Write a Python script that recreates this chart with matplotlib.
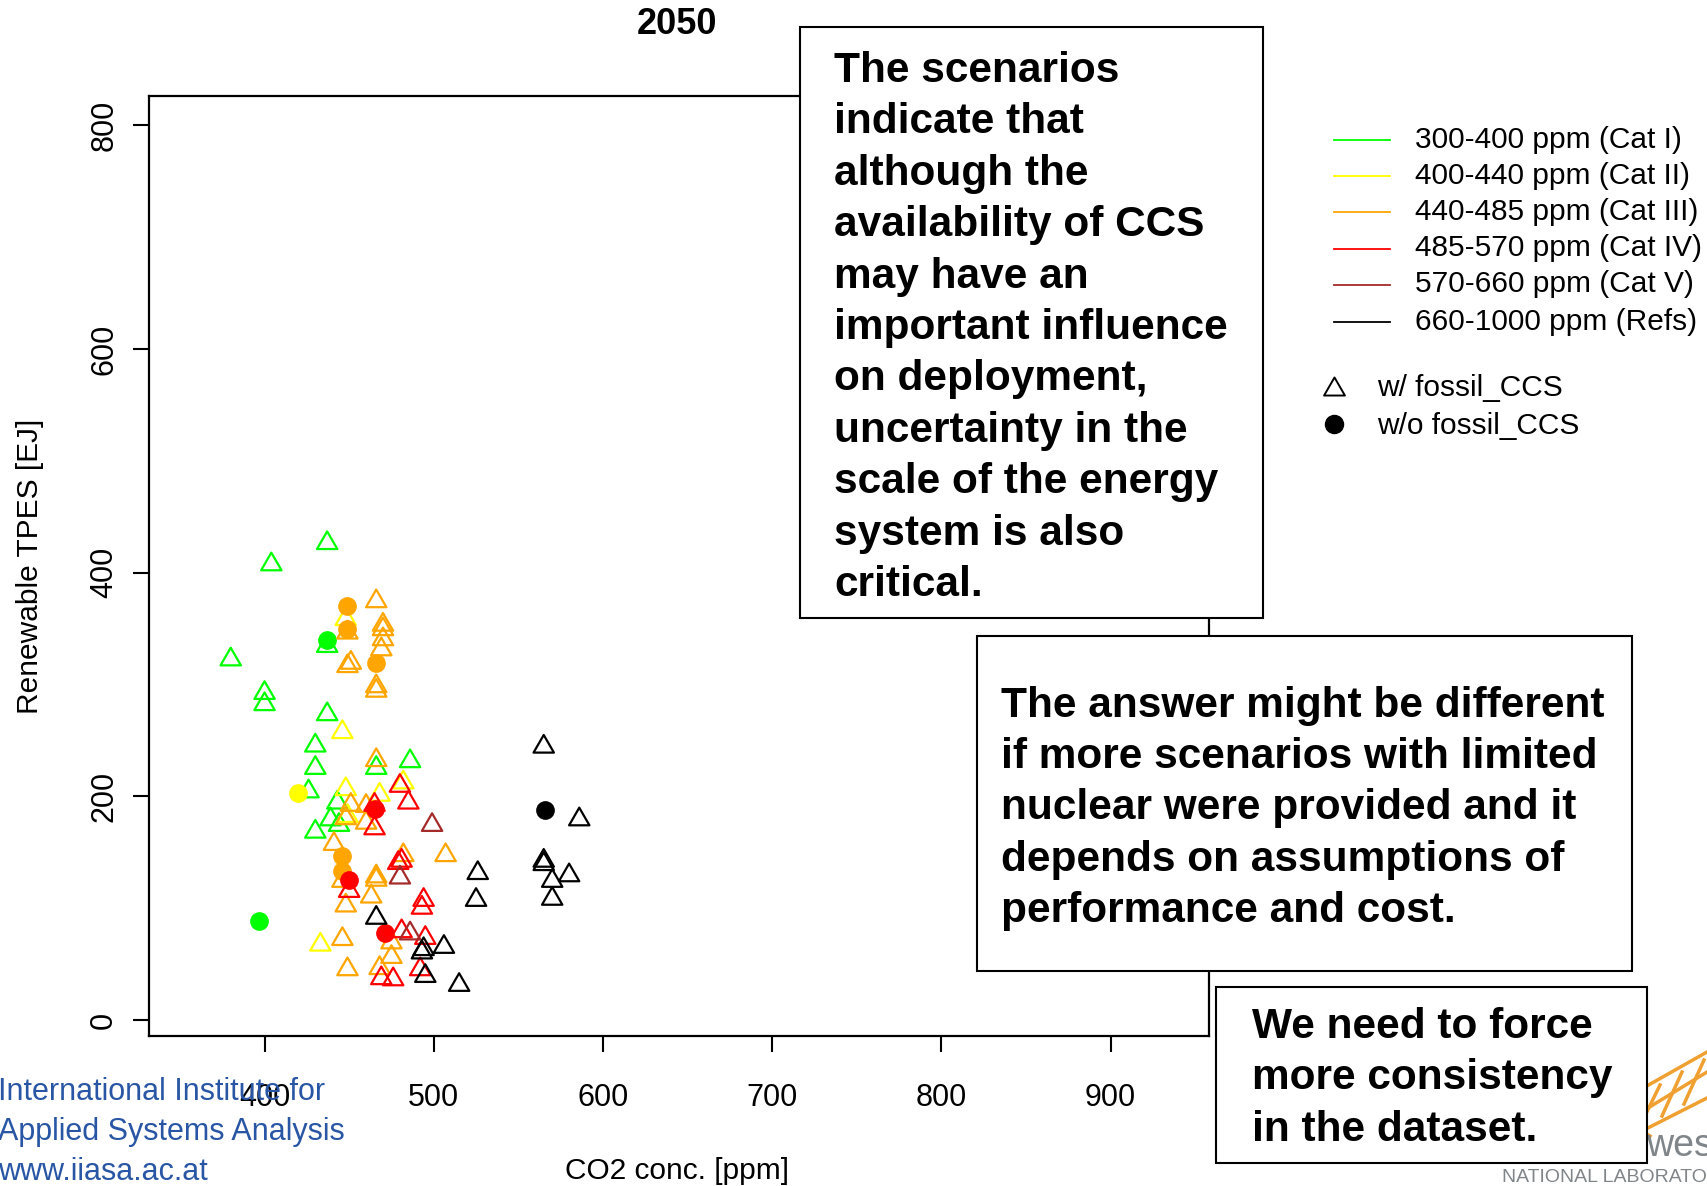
import matplotlib
matplotlib.use("Agg")
import matplotlib.pyplot as plt
from matplotlib.path import Path
from matplotlib.patches import Rectangle
from matplotlib.lines import Line2D

# Data (CO2 conc. [ppm] vs renewable TPES [EJ], 2050)
cat1_ccs_x = [437, 404, 380, 400, 400, 437, 430, 430, 466, 486, 426, 443, 439, 444, 430, 437]
cat1_ccs_y = [429, 410, 325, 295, 285, 276, 248, 228, 228, 234, 207, 197, 182, 177, 171, 337]
cat1_noccs_x = [437, 397]
cat1_noccs_y = [340, 89]

cat2_ccs_x = [446, 448, 448, 468, 482, 433, 449]
cat2_ccs_y = [260, 361, 209, 204, 215, 70, 185]
cat2_noccs_x = [420]
cat2_noccs_y = [203]

cat3_ccs_x = [466, 470, 470, 470, 469, 451, 449, 466, 466, 449, 466, 451, 460, 448,
              460, 441, 482, 507, 466, 466, 446, 448, 463, 446, 475, 475, 449, 468]
cat3_ccs_y = [377, 356, 352, 343, 334, 322, 319, 301, 297, 349, 235, 195, 194, 183,
              179, 160, 150, 150, 131, 128, 127, 105, 113, 75, 72, 59, 48, 49]
cat3_noccs_x = [449, 449, 466, 446, 446]
cat3_noccs_y = [370, 350, 319, 147, 133]

cat4_ccs_x = [480, 485, 465, 465, 481, 479, 494, 493, 450, 481, 495, 492, 469, 476]
cat4_ccs_y = [212, 197, 195, 174, 145, 143, 110, 103, 118, 82, 76, 48, 40, 39]
cat4_noccs_x = [465, 450, 471]
cat4_noccs_y = [189, 125, 78]

cat5_ccs_x = [499, 480, 486]
cat5_ccs_y = [177, 130, 80]

refs_ccs_x = [565, 586, 565, 565, 580, 570, 570, 526, 525, 466, 494, 493, 506, 495, 515]
refs_ccs_y = [247, 182, 145, 142, 132, 127, 111, 134, 110, 94, 66, 63, 68, 42, 34]
refs_noccs_x = [566]
refs_noccs_y = [188]

cat_labels = ["300-400 ppm (Cat I)", "400-440 ppm (Cat II)", "440-485 ppm (Cat III)",
              "485-570 ppm (Cat IV)", "570-660 ppm (Cat V)", "660-1000 ppm (Refs)"]
cat_colors = ["#00ff00", "#ffff00", "#ffa500", "#ff0000", "#a52a2a", "#000000"]

x_ticks = [400, 500, 600, 700, 800, 900]
y_ticks = [0, 200, 400, 600, 800]

W, H = 1707, 1186


def fx(px):
    return px / W


def fy(py):
    return 1 - py / H


# R style open triangle (pch 2)
tri = Path([(-0.577, -0.5), (0.577, -0.5), (0.0, 0.5), (-0.577, -0.5)],
           [Path.MOVETO, Path.LINETO, Path.LINETO, Path.CLOSEPOLY])

plt.rcParams['font.family'] = ['Liberation Sans', 'DejaVu Sans']

fig = plt.figure(figsize=(W / 100, H / 100), dpi=100)
ax = fig.add_axes([fx(149), fy(1036.4), fx(1208.5) - fx(149), fy(95.8) - fy(1036.4)])

ccs = [(cat1_ccs_x, cat1_ccs_y), (cat2_ccs_x, cat2_ccs_y), (cat3_ccs_x, cat3_ccs_y),
       (cat4_ccs_x, cat4_ccs_y), (cat5_ccs_x, cat5_ccs_y), (refs_ccs_x, refs_ccs_y)]
noccs = [(cat1_noccs_x, cat1_noccs_y), (cat2_noccs_x, cat2_noccs_y),
         (cat3_noccs_x, cat3_noccs_y), (cat4_noccs_x, cat4_noccs_y),
         ([], []), (refs_noccs_x, refs_noccs_y)]

for (tx, ty), (cx, cy), col in zip(ccs, noccs, cat_colors):
    ax.scatter(tx, ty, marker=tri, s=215, facecolors='none', edgecolors=col, linewidths=1.6)
    if cx:
        ax.scatter(cx, cy, marker='o', s=155, color=col, edgecolors=col, linewidths=1)

ax.set_xlim(331.7, 957.9)
ax.set_ylim(-14.6, 826.3)
ax.set_xticks(x_ticks)
ax.set_yticks(y_ticks)
for sp in ax.spines.values():
    sp.set_linewidth(1.6)
ax.tick_params(length=11.5, width=1.5, labelsize=22)
ax.tick_params(axis='x', pad=22)
ax.tick_params(axis='y', labelrotation=90, pad=10)
for lab in ax.get_yticklabels():
    lab.set_va('center')

fig.text(fx(677), fy(24), "2050", fontsize=26, fontweight='bold', ha='center', va='center')
fig.text(fx(677), fy(1171), "CO2 conc. [ppm]", fontsize=21.5, ha='center', va='center')
fig.text(fx(30), fy(566), "Renewable TPES [EJ]", fontsize=21.5, rotation=90,
         ha='center', va='center')

# legend for categories
leg_rows = [139.5, 175.5, 211.5, 248.5, 284.5, 321.5]
for yy, lab, col in zip(leg_rows, cat_labels, cat_colors):
    fig.add_artist(Line2D([fx(1333.6), fx(1390.3)], [fy(yy), fy(yy)], color=col, lw=1.3,
                          transform=fig.transFigure))
    fig.text(fx(1415), fy(yy), lab, fontsize=21.5, va='center', ha='left')

# legend for markers
fig.add_artist(Line2D([fx(1333.6)], [fy(386)], marker=tri, markersize=15, mfc='none',
                      mec='black', mew=1.4, transform=fig.transFigure))
fig.text(fx(1377), fy(388.5), "w/ fossil_CCS", fontsize=21.5, va='center')
fig.add_artist(Line2D([fx(1333.6)], [fy(424)], marker='o', markersize=13, color='black',
                      transform=fig.transFigure))
fig.text(fx(1377), fy(425.5), "w/o fossil_CCS", fontsize=21.5, va='center')

# logos (text approximations)
iiasa_blue = "#2856a5"
for yy, t in zip([1092, 1132, 1172.5], ["International Institute for",
                                        "Applied Systems Analysis", "www.iiasa.ac.at"]):
    fig.text(fx(-2), fy(yy), t, fontsize=22, color=iiasa_blue, va='center', ha='left',
             zorder=0)

orange = "#f0a030"
lattice = [((1625, 1122), (1707, 1072)), ((1622, 1100), (1707, 1052)),
           ((1640, 1132), (1707, 1098)), ((1640, 1126), (1660, 1085)),
           ((1662, 1116), (1682, 1072)), ((1684, 1104), (1704, 1060)),
           ((1625, 1122), (1650, 1136))]
for (x0, y0), (x1, y1) in lattice:
    fig.add_artist(Line2D([fx(x0), fx(x1)], [fy(y0), fy(y1)], color=orange, lw=2.5,
                          transform=fig.transFigure, zorder=0.5))
fig.text(fx(1646), fy(1146), "west", fontsize=27, color="#808589", va='center',
         ha='left')
fig.text(fx(1502), fy(1177), "NATIONAL LABORATORY", fontsize=14, color="#808589",
         va='center', ha='left')

# text boxes
boxes = [
    ((800.2, 27.2, 1262.9, 618.4), 834, 71,
     ["The scenarios", "indicate that", "although the", "availability of CCS",
      "may have an", "important influence", "on deployment,", "uncertainty in the",
      "scale of the energy", "system is also", "critical."]),
    ((976.5, 635.8, 1632, 971.1), 1000.5, 705.5,
     ["The answer might be different", "if more scenarios with limited",
      "nuclear were provided and it", "depends on assumptions of",
      "performance and cost."]),
    ((1216, 987.4, 1647.2, 1162.7), 1252, 1027,
     ["We need to force", "more consistency", "in the dataset."]),
]
for (x0, y0, x1, y1), tx, ty0, lines in boxes:
    fig.add_artist(Rectangle((fx(x0), fy(y1)), fx(x1) - fx(x0), fy(y0) - fy(y1),
                             facecolor='white', edgecolor='black', lw=1.5,
                             transform=fig.transFigure, zorder=5))
    for i, t in enumerate(lines):
        fig.text(fx(tx), fy(ty0 + i * 51.4), t, fontsize=30.5, fontweight='bold',
                 va='center', ha='left', zorder=6)

fig.savefig("out.png", dpi=100)
